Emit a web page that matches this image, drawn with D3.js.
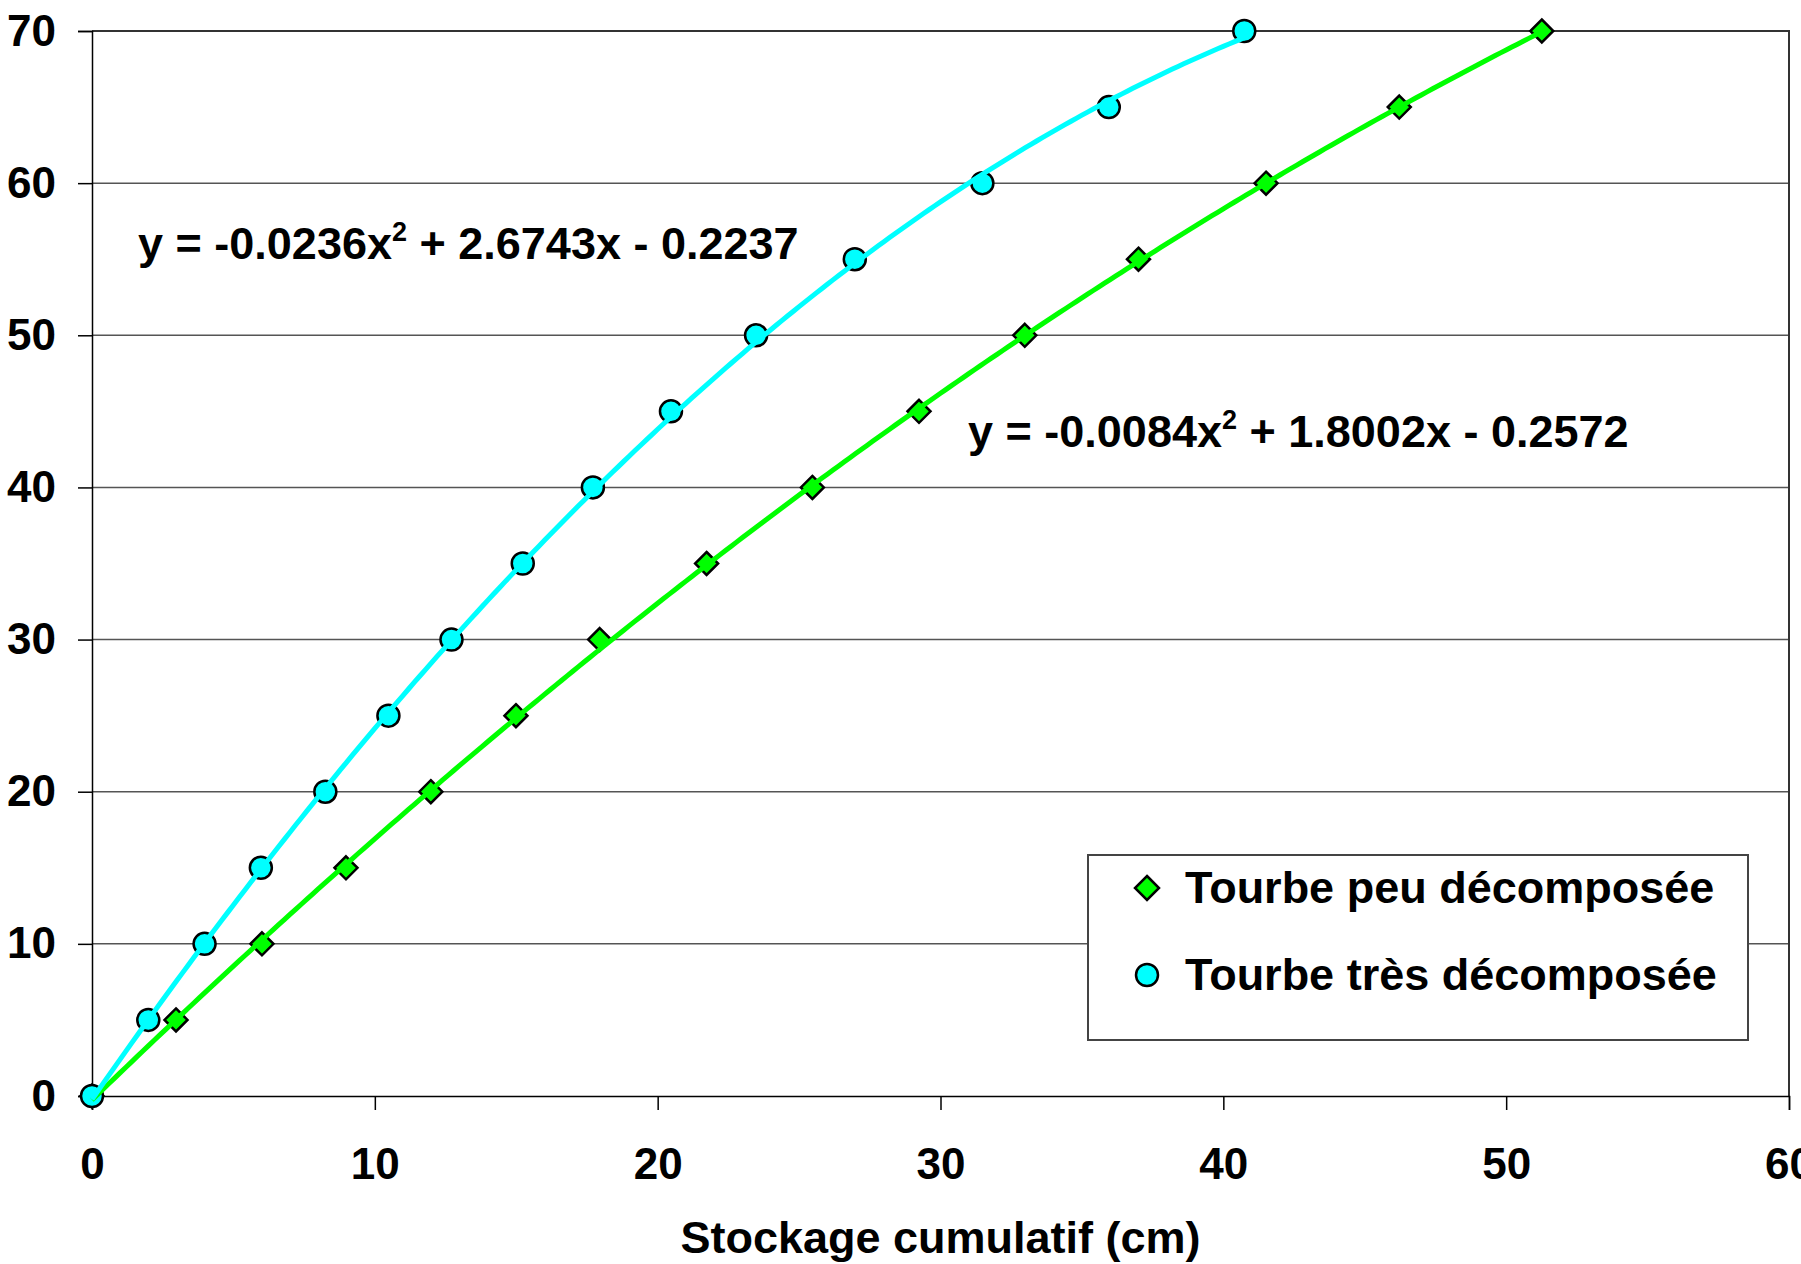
<!DOCTYPE html>
<html>
<head>
<meta charset="utf-8">
<script src="https://cdn.jsdelivr.net/npm/d3@7"></script>
<style>
  body { margin: 0; background: #fff; }
  text { font-family: "Liberation Sans", Arial, sans-serif; font-weight: bold; fill: #000; }
</style>
</head>
<body>
<script>
// Depth values (y) shared by both series
var depth = [0, 5, 10, 15, 20, 25, 30, 35, 40, 45, 50, 55, 60, 65, 70];

// Cumulative storage (x)
var peuX  = [0, 2.97, 6.01, 8.98, 11.98, 14.99, 17.95, 21.73, 25.47, 29.24, 32.98, 37.0, 41.51, 46.22, 51.26];
var tresX = [0, 1.99, 3.98, 5.97, 8.25, 10.48, 12.71, 15.23, 17.71, 20.47, 23.48, 26.97, 31.48, 35.95, 40.74];

// polynomial trendline coefficients (a x^2 + b x + c), as printed on the chart
var peuFit  = [-0.0084, 1.8002, -0.2572];
var tresFit = [-0.0236, 2.6743, -0.2237];

var xTicks = [0, 10, 20, 30, 40, 50, 60];
var yTicks = [0, 10, 20, 30, 40, 50, 60, 70];

var seriesNames = ["Tourbe peu décomposée", "Tourbe très décomposée"];

var margin = {top: 31, right: 12, bottom: 168, left: 92},
    width = 1801 - margin.left - margin.right,
    height = 1264 - margin.top - margin.bottom;

var x = d3.scaleLinear().domain([0, 60]).range([0, width]);
var y = d3.scaleLinear().domain([0, 70]).range([height, 0]);

var svg = d3.select("body")
    .append("svg")
        .attr("width", 1801)
        .attr("height", 1264)
    .append("g")
        .attr("transform", "translate(" + margin.left + "," + margin.top + ")");

// gridlines
svg.append("g")
    .selectAll("line")
    .data(yTicks.filter(function(d) { return d > 0 && d < 70; }))
    .enter().append("line")
        .attr("x1", 0).attr("x2", width)
        .attr("y1", function(d) { return y(d); })
        .attr("y2", function(d) { return y(d); })
        .style("stroke", "#555")
        .style("stroke-width", 1.5);

// plot border top / right
svg.append("path")
    .attr("d", "M0," + y(70) + "H" + width + "V" + height)
    .style("fill", "none")
    .style("stroke", "#333")
    .style("stroke-width", 2);

// Y axis
var yAxis = svg.append("g")
    .call(d3.axisLeft(y).tickValues(yTicks).tickSize(14).tickPadding(22));
yAxis.select(".domain").style("stroke", "#000").style("stroke-width", 1.5);
yAxis.selectAll(".tick line").style("stroke", "#000").style("stroke-width", 1.5);
yAxis.selectAll(".tick text")
    .style("font-size", "44px")
    .style("font-family", "'Liberation Sans', Arial, sans-serif")
    .style("font-weight", "bold")
    .attr("fill", "#000");

// X axis
var xAxis = svg.append("g")
    .attr("transform", "translate(0," + height + ")")
    .call(d3.axisBottom(x).tickValues(xTicks).tickSize(14).tickPadding(38));
xAxis.select(".domain").style("stroke", "#000").style("stroke-width", 1.5);
xAxis.selectAll(".tick line").style("stroke", "#000").style("stroke-width", 1.5);
xAxis.selectAll(".tick text")
    .style("font-size", "44px")
    .style("font-family", "'Liberation Sans', Arial, sans-serif")
    .style("font-weight", "bold")
    .attr("fill", "#000");

// axis label
svg.append("text")
    .attr("x", width / 2)
    .attr("y", height + 157)
    .style("text-anchor", "middle")
    .style("font-size", "45px")
    .text("Stockage cumulatif (cm)");

// markers
var peuData = peuX.map(function(v, i) { return {x: v, y: depth[i]}; });
var tresData = tresX.map(function(v, i) { return {x: v, y: depth[i]}; });

function diamond(g, cx, cy, r) {
    g.append("path")
        .attr("d", "M" + cx + "," + (cy - r) + "L" + (cx + r) + "," + cy +
                   "L" + cx + "," + (cy + r) + "L" + (cx - r) + "," + cy + "Z")
        .style("fill", "#00ff00")
        .style("stroke", "#000")
        .style("stroke-width", 2.5);
}

var markers = svg.append("g");
peuData.forEach(function(d) { diamond(markers, x(d.x), y(d.y), 11.5); });

markers.selectAll("circle")
    .data(tresData)
    .enter().append("circle")
        .attr("cx", function(d) { return x(d.x); })
        .attr("cy", function(d) { return y(d.y); })
        .attr("r", 11)
        .style("fill", "#00ffff")
        .style("stroke", "#000")
        .style("stroke-width", 2.5);

// trendlines, drawn over the markers like Excel does
function trend(c, xmax) {
    return d3.range(0, xmax, 0.2).concat([xmax]).map(function(v) {
        return {x: v, y: c[0] * v * v + c[1] * v + c[2]};
    });
}
var fitLine = d3.line()
    .x(function(d) { return x(d.x); })
    .y(function(d) { return y(d.y); });

svg.append("path")
    .attr("d", fitLine(trend(peuFit, d3.max(peuX))))
    .style("fill", "none")
    .style("stroke", "#00ff00")
    .style("stroke-width", 5);

svg.append("path")
    .attr("d", fitLine(trend(tresFit, d3.max(tresX))))
    .style("fill", "none")
    .style("stroke", "#00ffff")
    .style("stroke-width", 5);

// equations
function equation(tx, ty, c) {
    var t = svg.append("text")
        .attr("x", tx - margin.left)
        .attr("y", ty - margin.top)
        .style("font-size", "45px");
    t.append("tspan").text("y = " + c[0] + "x");
    t.append("tspan").attr("dy", -18).style("font-size", "27px").text("2");
    var b = c[1].toFixed(4), k = Math.abs(c[2]).toFixed(4);
    t.append("tspan").attr("dy", 18).text(" + " + b + "x " + (c[2] < 0 ? "-" : "+") + " " + k);
}
equation(138, 259, tresFit);
equation(968, 447, peuFit);

// legend
var lg = svg.append("g")
    .attr("transform", "translate(" + (1088 - margin.left) + "," + (855 - margin.top) + ")");
lg.append("rect")
    .attr("width", 660)
    .attr("height", 185)
    .style("fill", "#fff")
    .style("stroke", "#444")
    .style("stroke-width", 2);

diamond(lg, 59, 33, 12);
lg.append("circle")
    .attr("cx", 59).attr("cy", 120).attr("r", 11)
    .style("fill", "#00ffff")
    .style("stroke", "#000")
    .style("stroke-width", 2.5);

lg.selectAll("text.lab")
    .data(seriesNames)
    .enter().append("text")
        .attr("class", "lab")
        .attr("x", 97)
        .attr("y", function(d, i) { return 48 + i * 87; })
        .style("font-size", "45px")
        .text(function(d) { return d; });
</script>
</body>
</html>
